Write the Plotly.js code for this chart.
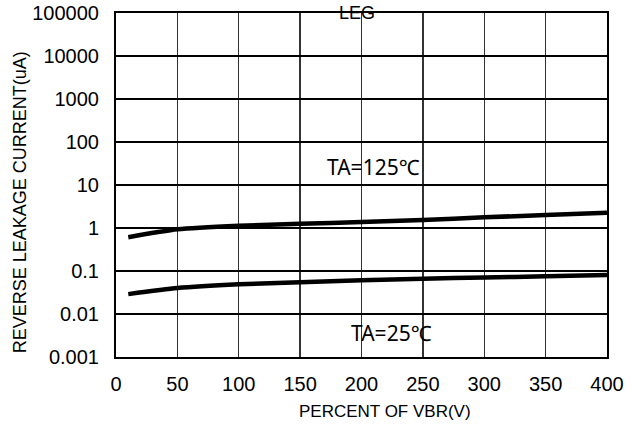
<!DOCTYPE html>
<html>
<head>
<meta charset="utf-8">
<script src="https://cdn.plot.ly/plotly-3.0.1.min.js"></script>
<style>html,body{margin:0;padding:0;background:#fff;}#chart{width:635px;height:430px;}</style>
</head>
<body>
<div id="chart"></div>
<script>
var xVals = [10, 50, 100, 150, 200, 250, 300, 350, 400];
var ta125 = [0.61, 0.93, 1.13, 1.25, 1.38, 1.53, 1.77, 2.0, 2.27];
var ta25 = [0.029, 0.040, 0.049, 0.055, 0.061, 0.066, 0.071, 0.075, 0.081];
var xTicks = [0, 50, 100, 150, 200, 250, 300, 350, 400];
var yTicks = [0.001, 0.01, 0.1, 1, 10, 100, 1000, 10000, 100000];
var yTickText = ['0.001', '0.01', '0.1', '1', '10', '100', '1000', '10000', '100000'];

var FONT = 'Liberation Sans, Arial, sans-serif';
var lineStyle = {color: '#000', width: 4.5, shape: 'spline', smoothing: 0.6};
var data = [
  {x: xVals, y: ta125, mode: 'lines', line: lineStyle, showlegend: false, hoverinfo: 'skip'},
  {x: xVals, y: ta25, mode: 'lines', line: lineStyle, showlegend: false, hoverinfo: 'skip'}
];

var layout = {
  width: 635, height: 430,
  margin: {l: 116, r: 28, t: 13, b: 73},
  paper_bgcolor: '#fff', plot_bgcolor: '#fff',
  font: {family: FONT, color: '#000'},
  xaxis: {
    range: [0, 400], tickvals: xTicks, ticktext: xTicks.map(String),
    showgrid: true, gridcolor: '#333', gridwidth: 1.3,
    zeroline: false, showline: true, linecolor: '#000', linewidth: 2, mirror: true,
    ticks: '', ticklabelstandoff: 8, tickfont: {size: 20, family: FONT}
  },
  yaxis: {
    type: 'log', range: [-3, 5], tickvals: yTicks, ticktext: yTickText,
    showgrid: true, gridcolor: '#000', gridwidth: 2,
    zeroline: false, showline: true, linecolor: '#000', linewidth: 2, mirror: true,
    ticks: '', ticklabelstandoff: 11, tickfont: {size: 20, family: FONT}
  },
  annotations: [
    {x: 196, y: 5, xref: 'x', yref: 'y', text: 'LEG', showarrow: false,
     font: {size: 18, family: FONT}, yanchor: 'middle', xanchor: 'center'},
    {x: 170, y: 1.42, xref: 'x', yref: 'y', text: 'TA=125\u2103', showarrow: false,
     font: {size: 21, family: 'Noto Sans, sans-serif'}, yanchor: 'middle', xanchor: 'left'},
    {x: 190, y: -2.44, xref: 'x', yref: 'y', text: 'TA=25\u2103', showarrow: false,
     font: {size: 21, family: 'Noto Sans, sans-serif'}, yanchor: 'middle', xanchor: 'left'},
    {x: 0.547, y: -0.157, xref: 'paper', yref: 'paper', text: 'PERCENT OF VBR(V)', showarrow: false,
     font: {size: 17, family: FONT}, yanchor: 'middle', xanchor: 'center'},
    {x: -0.1955, y: 0.45, xref: 'paper', yref: 'paper', text: 'REVERSE LEAKAGE CURRENT(uA)', showarrow: false,
     textangle: -90, font: {size: 18, family: FONT}, yanchor: 'middle', xanchor: 'center'}
  ]
};

Plotly.newPlot('chart', data, layout, {displayModeBar: false, staticPlot: true});
</script>
</body>
</html>
